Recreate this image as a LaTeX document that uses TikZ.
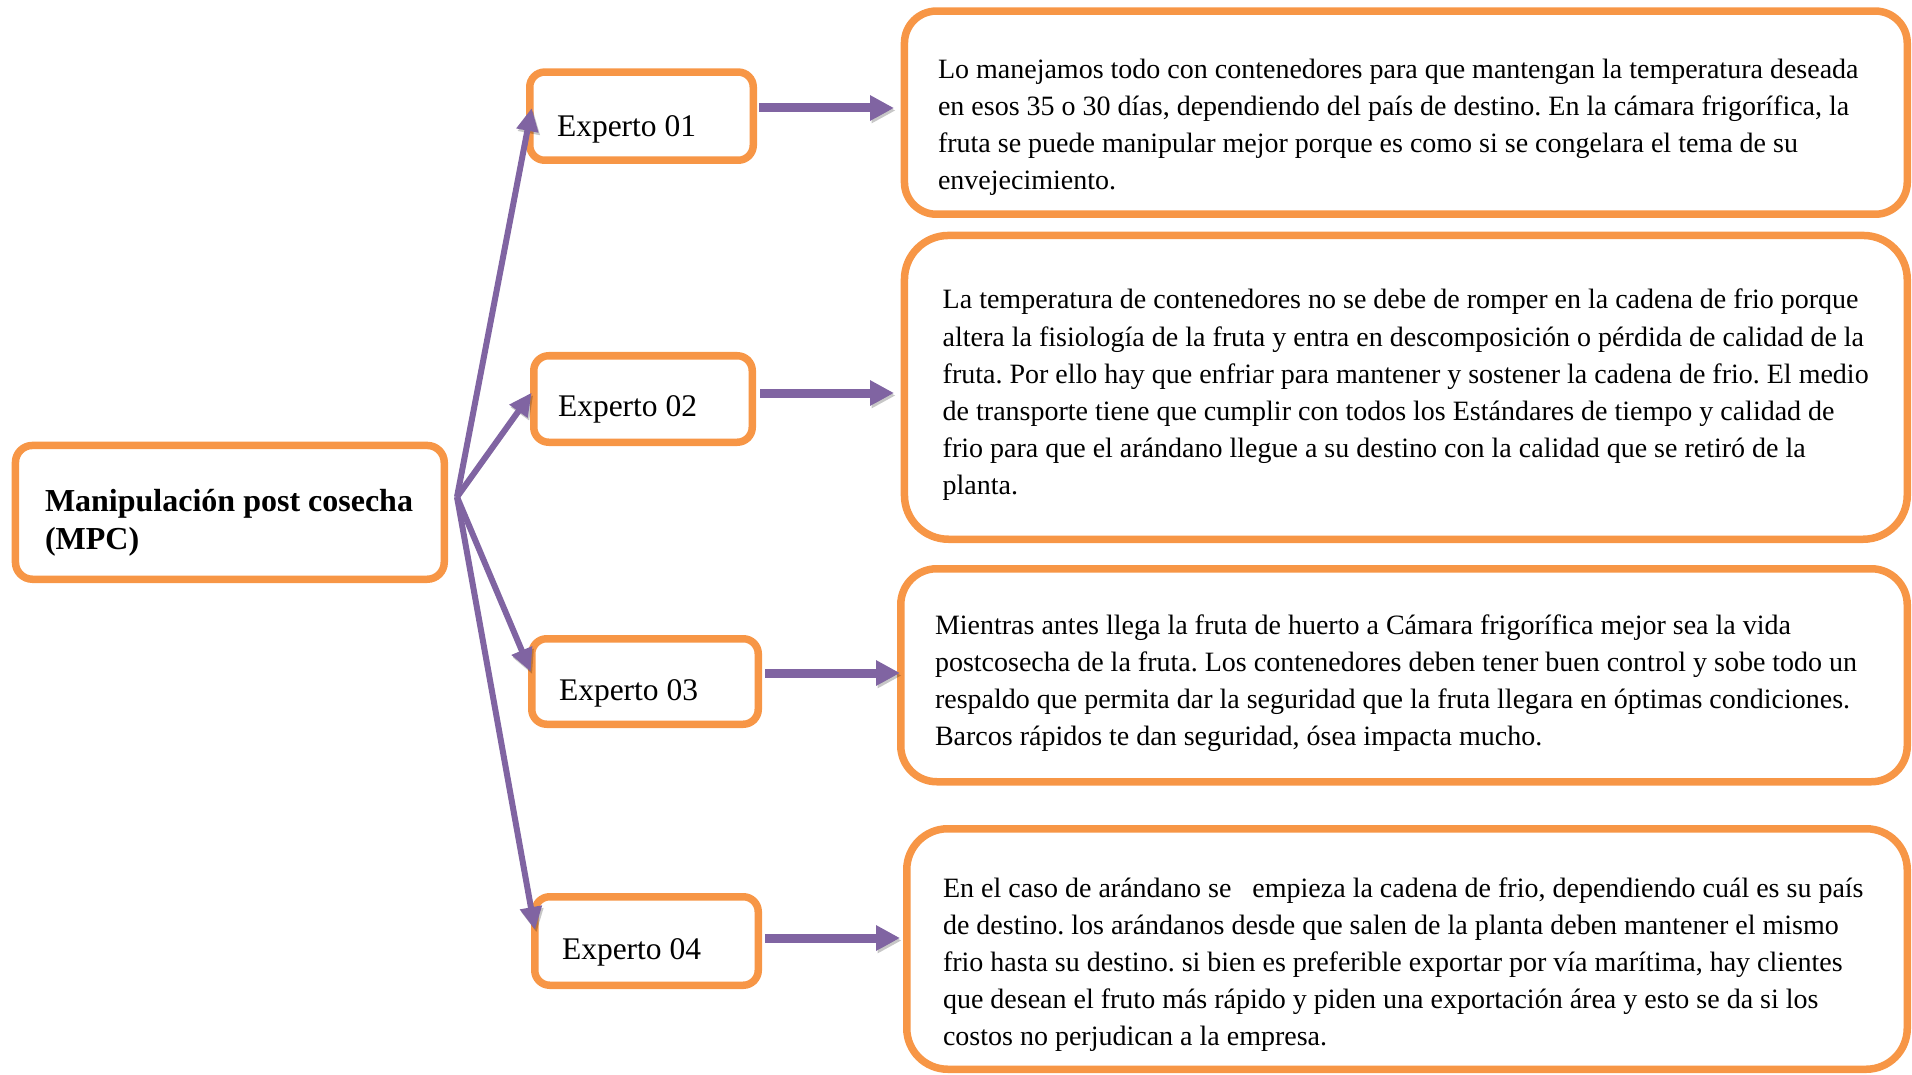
\documentclass[tikz,border=0pt]{standalone}
\usepackage{fontspec}
\setmainfont{Liberation Serif}
\usetikzlibrary{arrows.meta,calc}
\definecolor{orng}{HTML}{F79646}
\definecolor{purp}{HTML}{8064A2}
\frenchspacing
\begin{document}
\begin{tikzpicture}[x=1pt,y=-1pt,
  box/.style={draw=orng,line width=7.5pt,fill=white,inner sep=0pt,outer sep=0pt,rounded corners=#1},
  box/.default=15pt,
  txt/.style={inner sep=0pt,outer sep=0pt,anchor=base west},
  shadowed/.style={preaction={draw=black,opacity=0.22,transform canvas={shift={(1.5pt,-2.5pt)}}}},
  harrow/.style={draw=purp,line width=9pt,-{Triangle[length=24pt,width=24pt]},shadowed},
  farrow/.style={draw=purp,line width=6pt,-{Triangle[length=23pt,width=21pt]},shadowed},
  ebody/.style={font=\fontsize{31.5pt}{37pt}\selectfont}
]
\useasboundingbox (0,0) rectangle (1912,1075);

% boxes
\node[box=17pt,minimum width=428.8pt,minimum height=133.8pt] (m) at (229.85,512.35) {};
\node[box,minimum width=223.5pt,minimum height=88.2pt] (e1) at (641.5,116.15) {};
\node[box,minimum width=218.5pt,minimum height=86.5pt] (e2) at (643,399) {};
\node[box,minimum width=226.5pt,minimum height=85.5pt] (e3) at (645,681.5) {};
\node[box,minimum width=223.5pt,minimum height=88.5pt] (e4) at (646.5,941) {};
\node[box=32pt,minimum width=1002.8pt,minimum height=203.2pt] (b1) at (1405.85,112.65) {};
\node[box=44pt,minimum width=1002.8pt,minimum height=303.8pt] (b2) at (1405.85,387.35) {};
\node[box=36pt,minimum width=1006.5pt,minimum height=213pt] (b3) at (1404,675.25) {};
\node[box=41pt,minimum width=1000.5pt,minimum height=240.5pt] (b4) at (1407,949) {};

% fan
\coordinate (hub) at ($(m.east)+(12.75,-15.35)$);
\draw[farrow] (hub) -- ($(e1.west)+(1.95,-8.15)$);
\draw[farrow] (hub) -- ($(e2.west)+(-2,-6.4)$);
\draw[farrow] (hub) -- ($(e3.west)+(-1,-9.8)$);
\draw[farrow] (hub) -- ($(e4.west)+(0.25,-11)$);

% horizontal arrows
\draw[harrow] ($(e1.east)+(5.75,-8.15)$) -- ($(b1.west)+(-10.45,-4.65)$);
\draw[harrow] ($(e2.east)+(7.75,-6)$) -- ($(b2.west)+(-10.45,5.65)$);
\draw[harrow] ($(e3.east)+(6.75,-8.5)$) -- ($(b3.west)+(-0.75,-2.25)$);
\draw[harrow] ($(e4.east)+(6.75,-3)$) -- ($(b4.west)+(-6.75,-11)$);

% texts
\node[txt] (mt) at (45,511.7) {\parbox[t]{430pt}{\fontsize{32pt}{38pt}\selectfont\bfseries\raggedright Manipulación post cosecha\\(MPC)}};
\node[txt,ebody] (e1t) at (557,137) {Experto 01};
\node[txt,ebody] (e2t) at (558,416) {Experto 02};
\node[txt,ebody] (e3t) at (559,700) {Experto 03};
\node[txt,ebody] (e4t) at (562,959) {Experto 04};

\node[txt] (b1t) at (938,79) {\parbox[t]{960pt}{\fontsize{28pt}{36.8pt}\selectfont\raggedright
Lo manejamos todo con contenedores para que mantengan la temperatura deseada\\
en esos 35 o 30 días, dependiendo del país de destino. En la cámara frigorífica, la\\
fruta se puede manipular mejor porque es como si se congelara el tema de su\\
envejecimiento.}};
\node[txt] (b2t) at (942.7,309) {\parbox[t]{960pt}{\fontsize{28pt}{37.1pt}\selectfont\raggedright
La temperatura de contenedores no se debe de romper en la cadena de frio porque\\
altera la fisiología de la fruta y entra en descomposición o pérdida de calidad de la\\
fruta. Por ello hay que enfriar para mantener y sostener la cadena de frio. El medio\\
de transporte tiene que cumplir con todos los Estándares de tiempo y calidad de\\
frio para que el arándano llegue a su destino con la calidad que se retiró de la\\
planta.}};
\node[txt] (b3t) at (935,634) {\parbox[t]{960pt}{\fontsize{28pt}{37.3pt}\selectfont\raggedright
Mientras antes llega la fruta de huerto a Cámara frigorífica mejor sea la vida\\
postcosecha de la fruta. Los contenedores deben tener buen control y sobe todo un\\
respaldo que permita dar la seguridad que la fruta llegara en óptimas condiciones.\\
Barcos rápidos te dan seguridad, ósea impacta mucho.}};
\node[txt] (b4t) at (943,897) {\parbox[t]{960pt}{\fontsize{28pt}{37pt}\selectfont\raggedright
En el caso de arándano se\ \ \ empieza la cadena de frio, dependiendo cuál es su país\\
de destino. los arándanos desde que salen de la planta deben mantener el mismo\\
frio hasta su destino. si bien es preferible exportar por vía marítima, hay clientes\\
que desean el fruto más rápido y piden una exportación área y esto se da si los\\
costos no perjudican a la empresa.}};
\end{tikzpicture}
\end{document}
